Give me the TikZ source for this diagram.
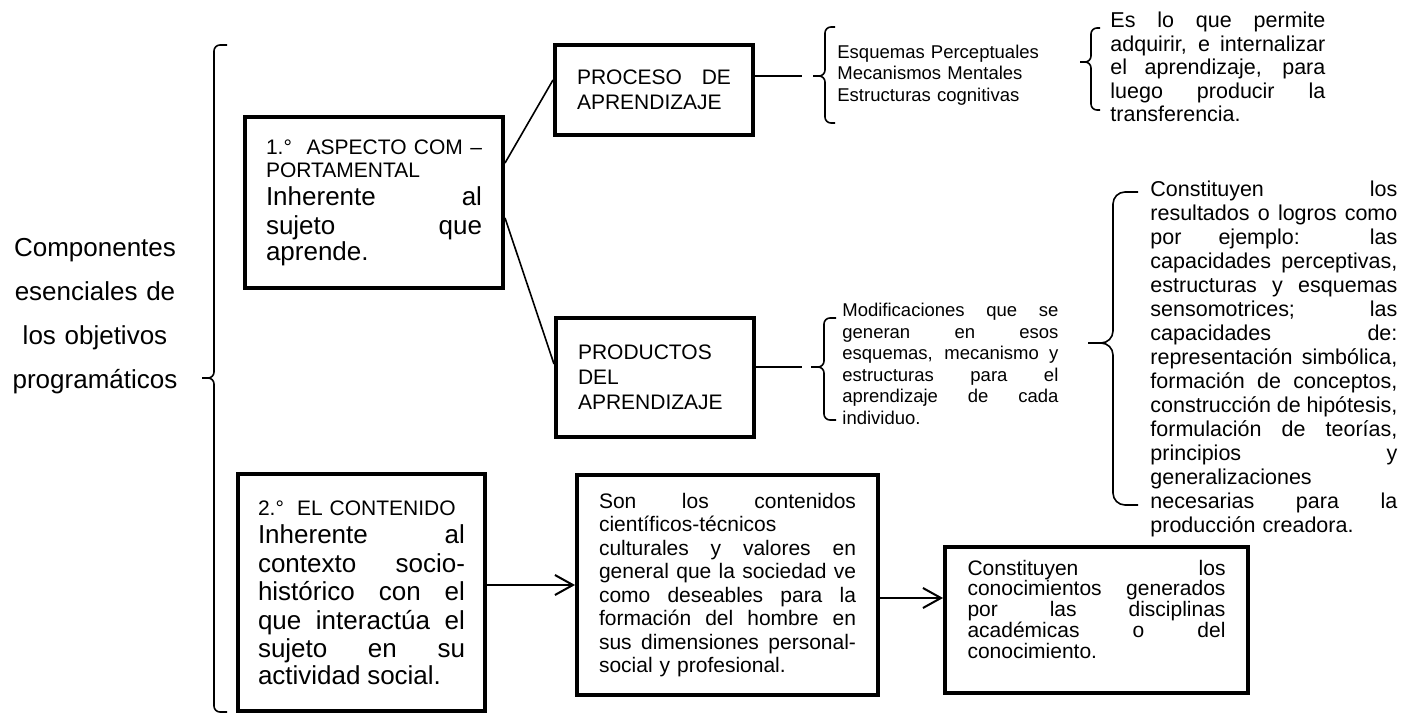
\documentclass[tikz,border=0pt]{standalone}
\usepackage{fontspec}
\setmainfont{Liberation Sans}
\usetikzlibrary{arrows.meta}
\newcommand{\jline}[1]{{\spaceskip=0pt\xspaceskip=0pt\makebox[\hsize][s]{#1}}}
\newcommand{\fsz}[2]{\fontsize{#1}{#2}\selectfont}

\begin{document}
\begin{tikzpicture}[
   x=0.5pt, y=-0.5pt,
   box/.style={draw, line width=2pt, align=left, inner ysep=0pt},
   plain/.style={align=left, inner sep=0pt},
   ln/.style={line width=0.8pt},
   brc/.style={line width=0.8pt, rounded corners=3pt},
   brcwide/.style={line width=0.8pt, rounded corners=6pt},
   arr/.style={line width=1pt, -{Straight Barb[length=9pt,width=10pt]}}
]
\useasboundingbox (0,0) rectangle (1414,715);

% left label and main brace
\node[align=center, inner sep=0pt, text width=90pt, font={\fsz{13pt}{22pt}}] (comp) at (95,316)
  {Componentes\\esenciales de\\los objetivos\\programáticos};
\draw[brc] (227,45) -- (214,45) -- (214,378) -- (202,378)
           (202,378) -- (214,378) -- (214,712) -- (227,712);

% first component
\node[box, minimum width=129pt, minimum height=85.5pt, text width=108pt, inner xsep=10.5pt] (asp) at (374,202.5)
  {\fsz{10.5pt}{11.5pt}\jline{1.°\ \ ASPECTO COM –}\\PORTAMENTAL\par
   \fsz{13pt}{14.25pt}\jline{Inherente al}\\\jline{sujeto que}\\aprende.};
\node[box, minimum width=99pt, minimum height=45pt, text width=77pt, inner xsep=11pt, font={\fsz{10.5pt}{12.5pt}}] (proc) at (654,90)
  {\jline{PROCESO DE}\\APRENDIZAJE};
\node[box, minimum width=99pt, minimum height=59.5pt, text width=77pt, inner xsep=11pt, font={\fsz{10.5pt}{12.5pt}}] (prod) at (655,377.5)
  {PRODUCTOS\\DEL\\APRENDIZAJE};
\draw[ln] ([yshift=19.75pt]asp.east) -- ([yshift=5pt]proc.west);
\draw[ln] ([yshift=-7.75pt]asp.east) -- ([yshift=6.75pt]prod.west);

% proceso
\coordinate (tq) at (813,76);
\draw[ln] (proc.east |- tq) -- ([xshift=-5.5pt]tq);
\draw[brc] (835,27) -- (825,27) -- (825,76) -- (813,76)
           (813,76) -- (825,76) -- (825,123) -- (835,123);
\node[plain, anchor=west, text width=105pt, font={\fsz{9.25pt}{10.75pt}}] (esq) at (837,75)
  {Esquemas Perceptuales\\Mecanismos Mentales\\Estructuras cognitivas};
\draw[brc] (1100,28) -- (1091,28) -- (1091,62) -- (1080,62)
           (1080,62) -- (1091,62) -- (1091,110) -- (1100,110);
\node[plain, anchor=north west, text width=107.5pt, font={\fsz{10.75pt}{11.75pt}}] (esl) at (1110,12)
  {\jline{Es lo que permite}\\\jline{adquirir, e internalizar}\\\jline{el aprendizaje, para}\\\jline{luego producir la}\\transferencia.};

% productos
\coordinate (tm) at (811,367);
\draw[ln] (prod.east |- tm) -- ([xshift=-4.5pt]tm);
\draw[brc] (836,318) -- (824,318) -- (824,367) -- (811,367)
           (811,367) -- (824,367) -- (824,420) -- (836,420);
\node[plain, anchor=north west, text width=108pt, font={\fsz{9.25pt}{10.75pt}}] (mod) at (842,303)
  {\jline{Modificaciones que se}\\\jline{generan en esos}\\\jline{esquemas, mecanismo y}\\\jline{estructuras para el}\\\jline{aprendizaje de cada}\\individuo.};
\draw[brcwide] (1138,192) -- (1113,192) -- (1113,343) -- (1088,343)
               (1088,343) -- (1113,343) -- (1113,505) -- (1138,505);
\node[plain, anchor=north west, text width=123.5pt, font={\fsz{10.75pt}{12pt}}] (cst) at (1150,181)
  {\jline{Constituyen los}\\\jline{resultados o logros como}\\\jline{por ejemplo: las}\\\jline{capacidades perceptivas,}\\\jline{estructuras y esquemas}\\\jline{sensomotrices; las}\\\jline{capacidades de:}\\\jline{representación simbólica,}\\\jline{formación de conceptos,}\\\jline{construcción de hipótesis,}\\\jline{formulación de teorías,}\\\jline{principios y}\\generalizaciones\\\jline{necesarias para la}\\producción creadora.};

% second component
\node[box, minimum width=123.5pt, minimum height=118.5pt, text width=103.5pt, inner xsep=10pt] (cont) at (361.5,592.5)
  {\fsz{10.5pt}{11.5pt}2.°\ \ EL CONTENIDO\par
   \fsz{13pt}{14.25pt}\jline{Inherente al}\\\jline{contexto socio-}\\\jline{histórico con el}\\\jline{que interactúa el}\\\jline{sujeto en su}\\actividad social.};
\node[box, minimum width=150.5pt, minimum height=110pt, text width=128.5pt, inner xsep=11pt, font={\fsz{10.5pt}{11.75pt}}] (val) at (727.5,585)
  {\jline{Son los contenidos}\\científicos-técnicos\\\jline{culturales y valores en}\\\jline{general que la sociedad ve}\\\jline{como deseables para la}\\\jline{formación del hombre en}\\\jline{sus dimensiones personal-}\\social y profesional.};
\node[box, minimum width=151.5pt, minimum height=73pt, text width=129pt, inner xsep=11.25pt, font={\fsz{10.5pt}{10.4pt}}] (conoc) at (1096.5,620)
  {\jline{Constituyen los}\\\jline{conocimientos generados}\\\jline{por las disciplinas}\\\jline{académicas o del}\\conocimiento.\rule[-11pt]{0pt}{11pt}};
\draw[arr] (cont.east |- val.west) -- (val.west);
\draw[arr] ([yshift=-6.5pt]val.east) -- ([yshift=-6.5pt]val.east -| conoc.west);
\end{tikzpicture}
\end{document}
